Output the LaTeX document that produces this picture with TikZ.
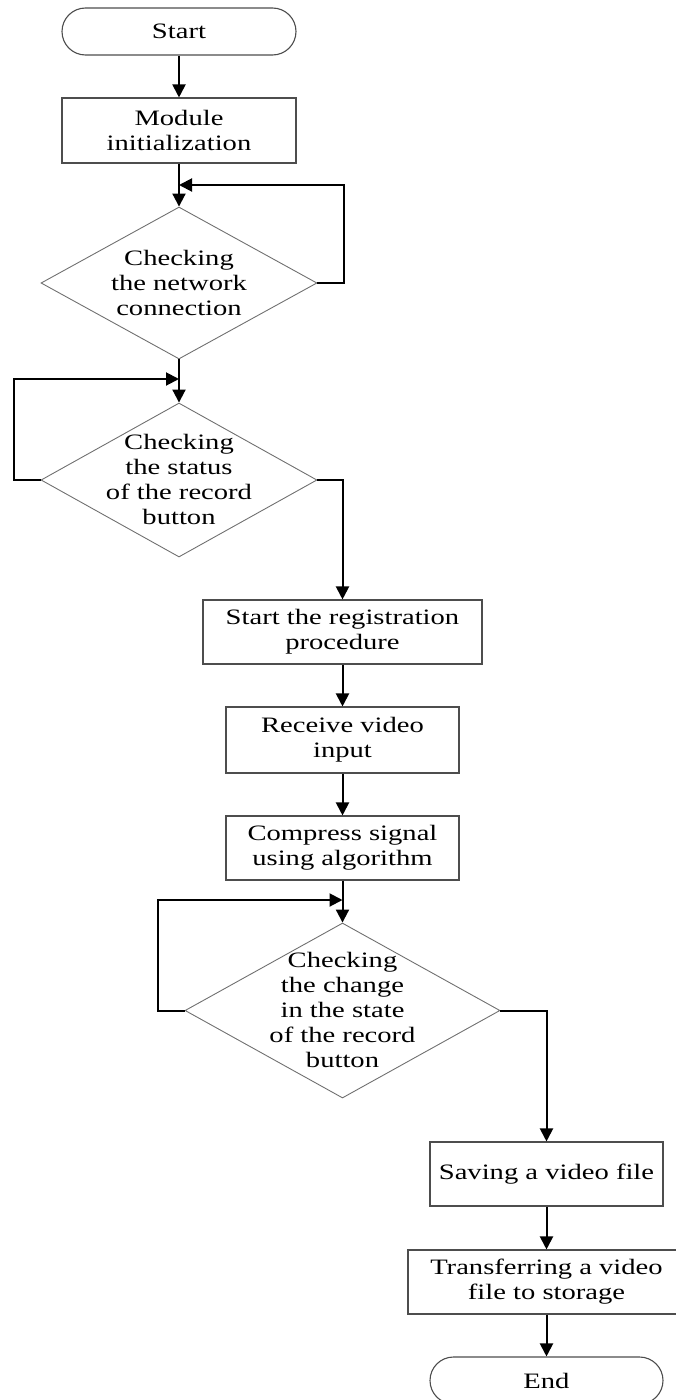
\documentclass[tikz,border=0pt]{standalone}
\usepackage{fontspec}
\setmainfont[FakeStretch=1.3]{Liberation Serif}
\usetikzlibrary{arrows.meta,shapes.geometric}
\definecolor{boxgray}{HTML}{4D4D4D}
\definecolor{diagray}{HTML}{707070}
% centred multi-line text that adds no size to a diamond node
\newcommand\dtxt[1]{\makebox[0pt]{\smash{\raisebox{-0.34em}{\begin{tabular}{@{}c@{}}#1\end{tabular}}}}}
\begin{document}
\begin{tikzpicture}[x=1pt,y=-1pt,
  font=\fontsize{22}{25}\selectfont,
  box/.style={draw=boxgray, line width=1.1pt, rectangle, inner sep=0pt, align=center},
  term/.style={box, rounded corners=23.5pt},
  dia/.style={draw=diagray, line width=0.9pt, shape=diamond, inner sep=0pt},
  arr/.style={draw=black, line width=2pt, -{Triangle[length=13pt,width=13pt]}}
]
\useasboundingbox (0,0) rectangle (675,1400);

% process steps
\node[term, minimum width=234pt, minimum height=47pt] (start) at (179,31.5) {Start};
\node[box, minimum width=234pt, minimum height=65pt] (init) at (179,130.5) {Module\\initialization};
\node[dia, minimum width=276pt, minimum height=152pt] (d1) at (179,283) {\dtxt{Checking\\the network\\connection}};
\node[dia, minimum width=276pt, minimum height=154pt] (d2) at (179,480) {\dtxt{Checking\\the status\\of the record\\button}};
\node[box, minimum width=279pt, minimum height=64pt] (reg) at (342.5,632) {Start the registration\\procedure};
\node[box, minimum width=233pt, minimum height=66pt] (recv) at (342.5,740) {Receive video\\input};
\node[box, minimum width=233pt, minimum height=64pt] (comp) at (342.5,848) {Compress signal\\using algorithm};
\node[dia, minimum width=315pt, minimum height=175pt] (d3) at (342.5,1010.5) {\dtxt{Checking\\the change\\in the state\\of the record\\button}};
\node[box, minimum width=233pt, minimum height=64pt] (save) at (546.5,1174) {Saving a video file};
\node[box, minimum width=277pt, minimum height=64pt] (xfer) at (546.5,1282) {Transferring a video\\file to storage};
\node[term, minimum width=233pt, minimum height=47pt] (end) at (546.5,1380.5) {End};

% points where the loops rejoin the main line
\coordinate (j1) at (179,185);
\coordinate (j2) at (179,379);
\coordinate (j3) at (342.5,900);

% connectors
\draw[arr] (start) -- (init);
\draw[arr] (init) -- (d1);
\draw[arr] (d1.east) -- ++(27,0) |- (j1);
\draw[arr] (d1) -- (d2);
\draw[arr] (d2.west) -- ++(-27,0) |- (j2);
\draw[arr] (d2.east) -| (reg.north);
\draw[arr] (reg) -- (recv);
\draw[arr] (recv) -- (comp);
\draw[arr] (comp) -- (d3);
\draw[arr] (d3.west) -- ++(-27,0) |- (j3);
\draw[arr] (d3.east) -| (save.north);
\draw[arr] (save) -- (xfer);
\draw[arr] (xfer) -- (end);
\end{tikzpicture}
\end{document}
